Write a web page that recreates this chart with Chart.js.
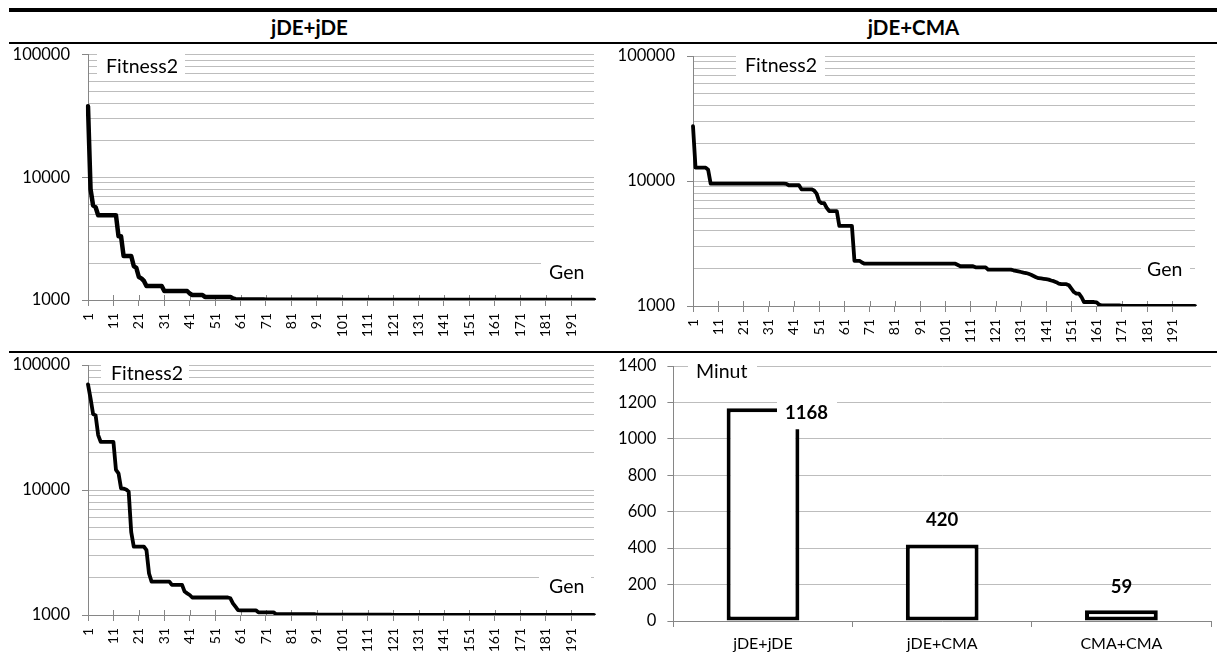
<!DOCTYPE html>
<html>
<head>
<meta charset="utf-8">
<script src="https://cdn.jsdelivr.net/npm/chart.js@4.4.1/dist/chart.umd.min.js"></script>
<style>
html,body{margin:0;padding:0;background:#fff;}
body{width:1221px;height:659px;position:relative;overflow:hidden;font-family:Lato,sans-serif;}
.rule{position:absolute;background:#000;}
.hdr{position:absolute;top:15px;font-weight:bold;font-size:20.5px;text-align:center;color:#000;line-height:normal;}
.panel{position:absolute;}
canvas{display:block;}
</style>
</head>
<body>
<div class="rule" style="left:9px;top:8px;width:1208px;height:4px"></div>
<div class="hdr" style="left:9px;width:601px">jDE+jDE</div>
<div class="hdr" style="left:610px;width:607px">jDE+CMA</div>
<div class="rule" style="left:9px;top:42px;width:1208px;height:2px"></div>
<div class="rule" style="left:9px;top:351px;width:1208px;height:1.5px"></div>
<div class="panel" style="left:9px;top:44px"><canvas id="c1" width="601" height="306"></canvas></div>
<div class="panel" style="left:610px;top:44px"><canvas id="c2" width="607" height="306"></canvas></div>
<div class="panel" style="left:9px;top:353px"><canvas id="c3" width="601" height="306"></canvas></div>
<div class="panel" style="left:610px;top:353px"><canvas id="c4" width="611" height="306"></canvas></div>
<script>
// ---------- data ----------
const gens = Array.from({length: 200}, (_, i) => String(i + 1));
const genTickLabels = ['1','11','21','31','41','51','61','71','81','91','101','111','121','131','141','151','161','171','181','191'];
const logTickLabels = [1000, 10000, 100000];
const logGridTicks = [1000, 2000, 3000, 4000, 5000, 6000, 7000, 8000, 9000,
  10000, 20000, 30000, 40000, 50000, 60000, 70000, 80000, 90000, 100000];

const fitnessJdeJde = [
  37800, 8000, 5900, 5700, 4900, 4900, 4900, 4900, 4900, 4900,
  4900, 4900, 3300, 3300, 2280, 2280, 2280, 2280, 1890, 1830,
  1540, 1500, 1430, 1300, 1300, 1300, 1300, 1300, 1300, 1300,
  1184, 1184, 1184, 1184, 1184, 1184, 1184, 1184, 1184, 1184,
  1130, 1100, 1100, 1100, 1100, 1100, 1060, 1060, 1060, 1060,
  1060, 1060, 1060, 1060, 1060, 1060, 1060, 1030, 1015, 1010,
  1010, 1010, 1010, 1010, 1010, 1010, 1010, 1010, 1010, 1010,
  1005, 1005, 1005, 1005, 1005, 1005, 1005, 1005, 1005, 1005,
  1005, 1005, 1005, 1005, 1005, 1005, 1005, 1005, 1005, 1005,
  1005, 1005, 1005, 1005, 1005, 1005, 1005, 1005, 1005, 1005,
  1000, 1000, 1000, 1000, 1000, 1000, 1000, 1000, 1000, 1000,
  1000, 1000, 1000, 1000, 1000, 1000, 1000, 1000, 1000, 1000,
  1000, 1000, 1000, 1000, 1000, 1000, 1000, 1000, 1000, 1000,
  1000, 1000, 1000, 1000, 1000, 1000, 1000, 1000, 1000, 1000,
  1000, 1000, 1000, 1000, 1000, 1000, 1000, 1000, 1000, 1000,
  1000, 1000, 1000, 1000, 1000, 1000, 1000, 1000, 1000, 1000,
  1000, 1000, 1000, 1000, 1000, 1000, 1000, 1000, 1000, 1000,
  1000, 1000, 1000, 1000, 1000, 1000, 1000, 1000, 1000, 1000,
  1000, 1000, 1000, 1000, 1000, 1000, 1000, 1000, 1000, 1000,
  1000, 1000, 1000, 1000, 1000, 1000, 1000, 1000, 1000, 1000
];

const fitnessJdeCma = [
  27500, 12800, 12800, 12800, 12800, 12800, 12300, 9530, 9530, 9530,
  9530, 9530, 9530, 9530, 9530, 9530, 9530, 9530, 9530, 9530,
  9530, 9530, 9530, 9530, 9530, 9530, 9530, 9530, 9530, 9530,
  9530, 9530, 9530, 9530, 9530, 9530, 9530, 9500, 9250, 9250,
  9250, 9250, 9250, 8580, 8580, 8580, 8580, 8580, 8400, 7920,
  6900, 6650, 6650, 6100, 5750, 5750, 5750, 5750, 4370, 4370,
  4370, 4370, 4370, 4370, 2300, 2300, 2300, 2230, 2180, 2180,
  2180, 2180, 2180, 2180, 2180, 2180, 2180, 2180, 2180, 2180,
  2180, 2180, 2180, 2180, 2180, 2180, 2180, 2180, 2180, 2180,
  2180, 2180, 2180, 2180, 2180, 2180, 2180, 2180, 2180, 2180,
  2180, 2180, 2180, 2180, 2180, 2130, 2080, 2080, 2080, 2080,
  2080, 2080, 2040, 2040, 2040, 2040, 2040, 1955, 1955, 1955,
  1955, 1955, 1955, 1955, 1955, 1955, 1955, 1931, 1910, 1890,
  1870, 1850, 1836, 1810, 1780, 1740, 1700, 1670, 1660, 1650,
  1640, 1626, 1600, 1580, 1550, 1510, 1495, 1495, 1495, 1465,
  1378, 1294, 1256, 1256, 1180, 1076, 1076, 1076, 1076, 1076,
  1070, 1025, 1010, 1010, 1010, 1010, 1010, 1010, 1010, 1010,
  1003, 1003, 1003, 1003, 1003, 1003, 1003, 1003, 1003, 1003,
  1003, 1003, 1003, 1003, 1003, 1003, 1003, 1003, 1003, 1003,
  1003, 1003, 1003, 1003, 1003, 1003, 1003, 1003, 1003, 1003
];

const fitnessCmaCma = [
  70000, 54000, 40500, 39500, 27500, 24300, 24300, 24300, 24300, 24300,
  24300, 14500, 13600, 10300, 10250, 10100, 9700, 4600, 3520, 3520,
  3520, 3520, 3520, 3300, 2150, 1850, 1850, 1850, 1850, 1850,
  1850, 1850, 1850, 1740, 1740, 1740, 1740, 1740, 1540, 1490,
  1445, 1380, 1380, 1380, 1380, 1380, 1380, 1380, 1380, 1380,
  1380, 1380, 1380, 1380, 1380, 1380, 1360, 1240, 1166, 1096,
  1090, 1090, 1090, 1090, 1090, 1090, 1090, 1050, 1050, 1050,
  1050, 1050, 1050, 1050, 1015, 1015, 1015, 1015, 1015, 1015,
  1015, 1015, 1015, 1015, 1015, 1015, 1015, 1015, 1015, 1015,
  1008, 1008, 1008, 1008, 1008, 1008, 1008, 1008, 1008, 1008,
  1008, 1008, 1008, 1008, 1008, 1008, 1008, 1008, 1008, 1008,
  1008, 1008, 1008, 1008, 1008, 1008, 1008, 1008, 1008, 1008,
  1003, 1003, 1003, 1003, 1003, 1003, 1003, 1003, 1003, 1003,
  1003, 1003, 1003, 1003, 1003, 1003, 1003, 1003, 1003, 1003,
  1003, 1003, 1003, 1003, 1003, 1003, 1003, 1003, 1003, 1003,
  1003, 1003, 1003, 1003, 1003, 1003, 1003, 1003, 1003, 1003,
  1003, 1003, 1003, 1003, 1003, 1003, 1003, 1003, 1003, 1003,
  1003, 1003, 1003, 1003, 1003, 1003, 1003, 1003, 1003, 1003,
  1003, 1003, 1003, 1003, 1003, 1003, 1003, 1003, 1003, 1003,
  1003, 1003, 1003, 1003, 1003, 1003, 1003, 1003, 1003, 1003
];

const minuteLabels = ['jDE+jDE', 'jDE+CMA', 'CMA+CMA'];
const minutes = [1168, 420, 59];
const minutTicks = [0, 200, 400, 600, 800, 1000, 1200, 1400];

// ---------- style ----------
const AXIS = '#868686';
const GRID = '#bdbdbd';
const TITLE_FONT = '19.5px Lato';
Chart.defaults.font.family = 'Lato';
Chart.defaults.color = '#000';

const boxLabels = {
  id: 'boxLabels',
  afterDatasetsDraw(chart, args, opts) {
    const ctx = chart.ctx;
    ctx.save();
    for (const it of (opts.items || [])) {
      ctx.fillStyle = '#fff';
      ctx.fillRect(it.box[0], it.box[1], it.box[2] - it.box[0], it.box[3] - it.box[1]);
      ctx.fillStyle = '#000';
      ctx.font = TITLE_FONT;
      ctx.textAlign = 'left';
      ctx.textBaseline = 'middle';
      ctx.fillText(it.text, it.x, it.y);
    }
    ctx.restore();
  }
};

// x-axis tick marks that also cross above the axis line (Excel "cross" ticks)
const crossTicks = {
  id: 'crossTicks',
  beforeDatasetsDraw(chart, args, opts) {
    const sx = chart.scales.x;
    const ctx = chart.ctx;
    const y = Math.round(chart.chartArea.bottom);
    ctx.save();
    ctx.strokeStyle = AXIS;
    ctx.lineWidth = 1;
    ctx.beginPath();
    sx.ticks.forEach((t, i) => {
      const x = Math.round(sx.getPixelForTick(i)) + 0.5;
      ctx.moveTo(x, y - (opts.up || 5));
      ctx.lineTo(x, y);
    });
    ctx.stroke();
    ctx.restore();
  }
};

const valueLabels = {
  id: 'valueLabels',
  afterDatasetsDraw(chart, args, opts) {
    const ctx = chart.ctx;
    const meta = chart.getDatasetMeta(0);
    ctx.save();
    ctx.font = 'bold 18.5px Lato';
    ctx.textAlign = 'center';
    ctx.textBaseline = 'middle';
    meta.data.forEach((bar, i) => {
      const p = opts.place[i];
      const cx = bar.x + p.dx, cy = bar.y + p.dy;
      if (p.box) {
        ctx.fillStyle = '#fff';
        ctx.fillRect(cx + p.box[0], cy + p.box[1], p.box[2], p.box[3]);
      }
      ctx.fillStyle = '#000';
      ctx.fillText(String(chart.data.datasets[0].data[i]), cx, cy);
    });
    ctx.restore();
  }
};

function fixVertical(w) {
  return s => { s.width = w; s.paddingTop = 0; s.paddingBottom = 0; };
}
function fixHorizontal(h) {
  return s => { s.height = h; s.paddingLeft = 0; s.paddingRight = 0; };
}

function makeLog(id, values, g, items, lw) {
  return new Chart(document.getElementById(id), {
    type: 'line',
    data: {
      labels: gens,
      datasets: [{
        data: values, borderColor: '#000', borderWidth: lw, pointRadius: 0,
        tension: 0, fill: false, borderJoinStyle: 'round', borderCapStyle: 'round'
      }]
    },
    options: {
      responsive: false, animation: false, devicePixelRatio: 1,
      layout: { padding: { top: g.top, right: g.right, left: 0, bottom: 0 } },
      plugins: { legend: { display: false }, tooltip: { enabled: false }, boxLabels: { items }, crossTicks: { up: 5 } },
      scales: {
        x: {
          type: 'category', offset: false,
          grid: { drawOnChartArea: false, color: AXIS, tickLength: 6 },
          border: { color: AXIS },
          ticks: { autoSkip: false, minRotation: 90, maxRotation: 90, padding: 7, font: { size: 14 }, color: '#000' },
          afterBuildTicks: s => { s.ticks = s.ticks.filter(t => genTickLabels.includes(gens[t.value])); },
          afterFit: fixHorizontal(g.xh)
        },
        y: {
          type: 'logarithmic', min: 1000, max: 100000,
          grid: {
            color: GRID, tickLength: 6,
            tickColor: c => (c.tick && logTickLabels.includes(c.tick.value)) ? AXIS : 'rgba(0,0,0,0)'
          },
          border: { color: AXIS },
          ticks: { autoSkip: false, padding: 12, font: { size: 16.5 }, color: '#000',
            callback: v => logTickLabels.includes(v) ? String(v) : '' },
          afterBuildTicks: s => { s.ticks = logGridTicks.map(v => ({ value: v, major: logTickLabels.includes(v) })); },
          afterFit: fixVertical(g.yw)
        }
      }
    },
    plugins: [crossTicks, boxLabels]
  });
}

makeLog('c1', fitnessJdeJde, { top: 10.5, right: 16, xh: 50, yw: 79 }, [
  { text: 'Fitness2', x: 97, y: 23, box: [88, 6, 176, 36] },
  { text: 'Gen', x: 540, y: 229, box: [532, 211, 590, 248] }
], 4.5);

makeLog('c2', fitnessJdeCma, { top: 12, right: 22, xh: 44, yw: 83 }, [
  { text: 'Fitness2', x: 135, y: 22, box: [126, 6, 215, 34] },
  { text: 'Gen', x: 537, y: 226, box: [531, 211, 580, 246] }
], 3.8);

makeLog('c3', fitnessCmaCma, { top: 12, right: 16, xh: 44, yw: 79 }, [
  { text: 'Fitness2', x: 102, y: 20.3, box: [92, 5, 180, 30] },
  { text: 'Gen', x: 540, y: 233.7, box: [530, 217, 582, 247] }
], 3.8);

new Chart(document.getElementById('c4'), {
  type: 'bar',
  data: {
    labels: minuteLabels,
    datasets: [{
      data: minutes, backgroundColor: '#fff', borderColor: '#000', borderWidth: 4,
      borderSkipped: false, categoryPercentage: 1, barPercentage: 0.406
    }]
  },
  options: {
    responsive: false, animation: false, devicePixelRatio: 1,
    layout: { padding: { top: 13, right: 10, left: 0, bottom: 0 } },
    plugins: {
      legend: { display: false }, tooltip: { enabled: false },
      boxLabels: { items: [ { text: 'Minut', x: 86, y: 19, box: [78, 3, 147, 35] } ] },
      valueLabels: { place: [
        { dx: 43.5, dy: 4.5, box: [-29.5, -14.5, 60, 31] },
        { dx: 0, dy: -24.5 },
        { dx: 0, dy: -23.5 }
      ] }
    },
    scales: {
      x: {
        grid: { drawOnChartArea: false, color: AXIS, tickLength: 6, offset: true },
        border: { color: AXIS },
        ticks: { padding: 7, font: { size: 16 }, color: '#000' },
        afterFit: fixHorizontal(38)
      },
      y: {
        min: 0, max: 1400,
        grid: { color: GRID, tickLength: 6, tickColor: AXIS },
        border: { color: AXIS },
        ticks: { autoSkip: false, padding: 11, font: { size: 16.5 }, color: '#000', callback: v => String(v) },
        afterBuildTicks: s => { s.ticks = minutTicks.map(v => ({ value: v })); },
        afterFit: fixVertical(63.4)
      }
    }
  },
  plugins: [boxLabels, valueLabels]
});
</script>
</body>
</html>
